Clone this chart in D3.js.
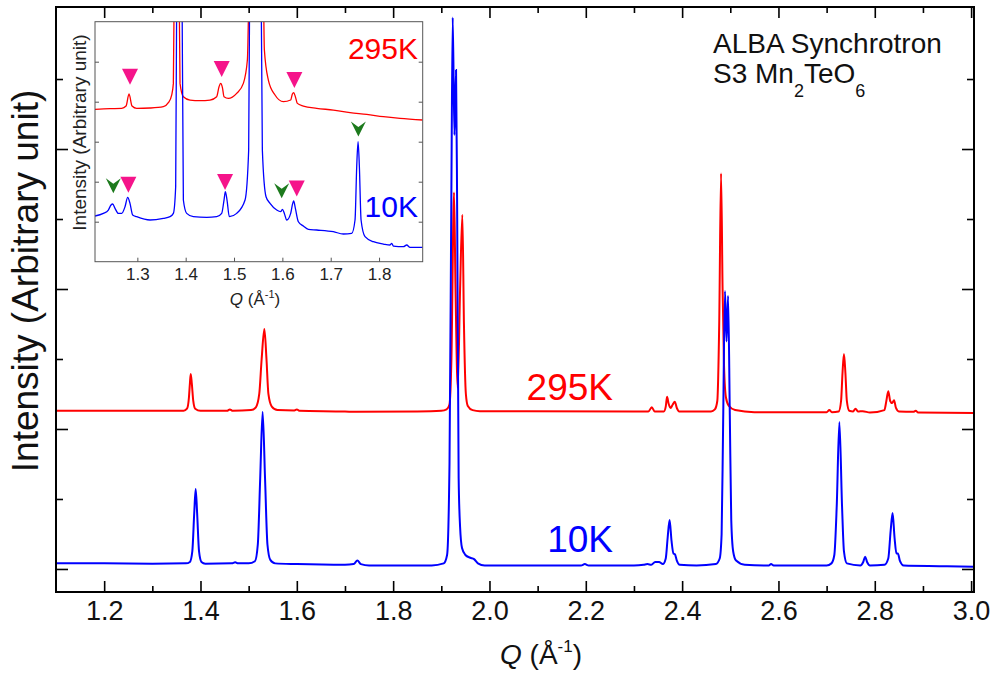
<!DOCTYPE html>
<html><head><meta charset="utf-8">
<script src="https://cdn.jsdelivr.net/npm/d3@7"></script>
<style>
body{margin:0;background:#fff;}
svg{display:block;font-family:"Liberation Sans",Arial,sans-serif;}
</style></head><body>
<svg id="c" width="994" height="674"></svg>
<script>
// ---------- data (Q in 1/Å, intensity in arbitrary units) ----------
const blue10K = [
[1.10,0.08],[1.20,0.08],[1.30,0.075],[1.37,0.08],[1.378,0.10],[1.383,0.25],[1.387,0.8],[1.390,1.143],[1.393,0.8],[1.397,0.25],[1.402,0.10],[1.41,0.075],
[1.465,0.08],[1.472,0.095],[1.478,0.08],[1.50,0.08],[1.513,0.11],[1.519,0.35],[1.524,1.3],[1.529,2.247],[1.534,1.3],[1.539,0.35],[1.545,0.13],[1.555,0.08],
[1.60,0.07],[1.70,0.06],[1.718,0.07],[1.7257,0.12],[1.733,0.07],[1.75,0.05],[1.80,0.05],[1.88,0.05],[1.905,0.08],[1.912,0.2],[1.917,1.5],[1.921,5.5],
[1.9237,7.88],[1.9272,6.2],[1.9306,7.13],[1.933,5.0],[1.936,1.3],[1.939,0.6],[1.943,0.3],[1.950,0.2],[1.960,0.16],[1.968,0.14],[1.976,0.08],[1.99,0.05],
[2.10,0.05],[2.19,0.05],[2.198,0.07],[2.206,0.05],[2.30,0.05],[2.32,0.06],[2.328,0.07],[2.336,0.06],[2.344,0.10],[2.352,0.10],[2.360,0.07],[2.366,0.15],
[2.370,0.45],[2.374,0.70],[2.378,0.40],[2.382,0.22],[2.385,0.21],[2.389,0.12],[2.395,0.06],[2.43,0.05],[2.47,0.07],[2.478,0.15],[2.482,0.5],[2.485,2.0],
[2.489,3.97],[2.4922,3.25],[2.4954,3.9],[2.499,2.2],[2.502,0.7],[2.506,0.25],[2.512,0.12],[2.53,0.06],[2.58,0.05],[2.5847,0.07],[2.59,0.05],[2.70,0.05],
[2.71,0.08],[2.716,0.2],[2.721,0.9],[2.7265,2.10],[2.732,0.9],[2.736,0.25],[2.742,0.08],[2.77,0.05],[2.776,0.10],[2.780,0.176],[2.784,0.10],[2.79,0.05],
[2.82,0.06],[2.828,0.15],[2.833,0.55],[2.837,0.80],[2.841,0.45],[2.845,0.22],[2.848,0.22],[2.852,0.12],[2.86,0.05],[2.95,0.04],[3.006,0.03]
];
const red295K = [
[1.10,2.26],[1.30,2.26],[1.365,2.26],[1.372,2.29],[1.376,2.45],[1.378,2.65],[1.3797,2.786],[1.382,2.65],[1.385,2.40],[1.389,2.29],[1.40,2.26],
[1.455,2.26],[1.461,2.28],[1.467,2.26],[1.505,2.27],[1.515,2.31],[1.522,2.5],[1.527,3.0],[1.5326,3.43],[1.537,3.0],[1.541,2.5],[1.548,2.32],[1.56,2.27],
[1.595,2.265],[1.600,2.28],[1.605,2.26],[1.70,2.25],[1.724,2.245],[1.85,2.25],[1.90,2.26],[1.911,2.28],[1.917,2.35],[1.921,3.0],[1.9264,5.38],
[1.9295,4.0],[1.9341,2.59],[1.939,4.0],[1.9437,5.06],[1.947,3.5],[1.951,2.5],[1.955,2.33],[1.965,2.27],[1.98,2.255],[2.30,2.25],[2.33,2.25],
[2.337,2.31],[2.343,2.25],[2.362,2.25],[2.366,2.32],[2.3687,2.46],[2.372,2.36],[2.376,2.30],[2.3805,2.35],[2.3847,2.39],[2.389,2.30],[2.394,2.25],
[2.46,2.25],[2.468,2.28],[2.473,2.4],[2.477,3.5],[2.4808,5.65],[2.484,4.0],[2.487,2.9],[2.491,2.45],[2.497,2.33],[2.51,2.27],[2.55,2.24],[2.70,2.24],
[2.7057,2.27],[2.711,2.24],[2.725,2.25],[2.730,2.4],[2.733,2.8],[2.736,3.07],[2.739,2.8],[2.742,2.4],[2.747,2.26],[2.755,2.25],[2.760,2.29],[2.765,2.25],
[2.775,2.255],[2.79,2.235],[2.820,2.27],[2.824,2.4],[2.828,2.54],[2.832,2.40],[2.836,2.37],[2.840,2.41],[2.844,2.30],[2.85,2.25],[2.88,2.245],[2.885,2.26],
[2.89,2.235],[3.006,2.23]
];
const insetRed = [
[1.2124,3.808],[1.2434,3.825],[1.2676,3.833],[1.2766,3.892],[1.2828,4.192],[1.289,3.892],[1.2986,3.833],[1.3262,3.842],[1.3538,3.875],[1.3641,3.975],
[1.371,4.167],[1.3745,4.458],[1.3772,8.2],[1.3814,9.9],[1.3855,8.2],[1.3883,4.458],[1.3952,4.125],[1.409,4.042],[1.4297,4.025],[1.4503,4.042],
[1.4641,4.125],[1.469,4.375],[1.4724,4.458],[1.4759,4.358],[1.4793,4.125],[1.4883,4.083],[1.5055,4.208],[1.5193,4.458],[1.5276,5.042],[1.5331,8.2],
[1.5469,9.9],[1.5593,8.2],[1.5628,5.292],[1.571,4.542],[1.5848,4.167],[1.6021,4.0],[1.6172,4.042],[1.6207,4.192],[1.6234,4.225],[1.6269,4.125],
[1.631,3.958],[1.6434,3.892],[1.671,3.833],[1.7055,3.792],[1.74,3.725],[1.7745,3.683],[1.809,3.625],[1.8434,3.583],[1.8903,3.542]
];
const insetBlue = [
[1.2124,1.142],[1.2297,1.208],[1.24,1.292],[1.2455,1.417],[1.249,1.442],[1.2538,1.333],[1.2607,1.208],[1.2676,1.208],[1.2745,1.375],[1.28,1.608],
[1.2848,1.458],[1.2903,1.167],[1.2986,1.125],[1.3262,1.042],[1.3538,1.083],[1.3676,1.125],[1.3745,1.208],[1.3793,1.875],[1.3821,8.2],[1.3869,9.9],
[1.3917,8.2],[1.3952,1.542],[1.4021,1.208],[1.4159,1.125],[1.4434,1.108],[1.4641,1.125],[1.4745,1.208],[1.4793,1.542],[1.4821,1.75],[1.4855,1.542],
[1.4903,1.125],[1.5055,1.208],[1.5228,1.542],[1.5303,2.792],[1.5331,8.2],[1.5441,9.9],[1.5552,8.2],[1.5586,2.792],[1.5662,1.625],[1.5745,1.458],
[1.5883,1.292],[1.5966,1.25],[1.6,1.308],[1.6041,1.208],[1.609,1.042],[1.6172,1.208],[1.6214,1.458],[1.6234,1.517],[1.6269,1.333],[1.6331,1.0],
[1.6434,0.892],[1.6538,0.808],[1.671,0.792],[1.7055,0.75],[1.7262,0.692],[1.7434,0.708],[1.7503,1.042],[1.7538,2.375],[1.7566,3.0],[1.7593,2.375],
[1.7628,1.042],[1.771,0.625],[1.7883,0.5],[1.809,0.442],[1.8228,0.417],[1.8262,0.458],[1.8297,0.392],[1.8503,0.375],[1.8572,0.417],[1.8641,0.358],[1.8903,0.358]
];
const pinkMarks = [[1.2848,4.625],[1.4745,4.817],[1.6248,4.542],[1.2814,1.925],[1.4814,1.99],[1.6297,1.833]];
const greenMarks = [[1.2503,1.90],[1.7572,3.317],[1.5986,1.775]];
const xMajor = [1.2,1.4,1.6,1.8,2.0,2.2,2.4,2.6,2.8,3.0];
const xMinor = [1.3,1.5,1.7,1.9,2.1,2.3,2.5,2.7,2.9];
const yMajor = [0,2,4,6];
const yMinor = [1,3,5,7];
const insetXTicks = [1.3,1.4,1.5,1.6,1.7,1.8];
const insetYTicks = [1,2,3,4,5];

// ---------- layout ----------
const svg = d3.select("#c");
const M = {l:56, r:974, t:7, b:592};
const x = d3.scaleLinear().domain([1.1,3.006]).range([M.l,M.r]);
const y = d3.scaleLinear().domain([-0.329,8.029]).range([M.b,M.t]);
const fmt = d3.format(".1f");

svg.append("clipPath").attr("id","mainclip").append("rect")
  .attr("x",M.l).attr("y",M.t).attr("width",M.r-M.l).attr("height",M.b-M.t);

const line = d3.line().x(d=>x(d[0])).y(d=>y(d[1])).curve(d3.curveMonotoneX);
const gLines = svg.append("g").attr("clip-path","url(#mainclip)");
gLines.append("path").datum(red295K).attr("d",line).attr("fill","none").attr("stroke","#ff0000").attr("stroke-width",2);
gLines.append("path").datum(blue10K).attr("d",line).attr("fill","none").attr("stroke","#0000ff").attr("stroke-width",2);

function styleAxis(g){ g.select(".domain").remove(); g.selectAll("line").attr("stroke","#000").attr("stroke-width",1.6); }
// bottom
svg.append("g").attr("transform",`translate(0,${M.b})`)
  .call(d3.axisBottom(x).tickValues(xMajor).tickSize(-11).tickPadding(9).tickFormat(fmt))
  .call(styleAxis).call(g=>g.selectAll("text").attr("font-size",27).attr("fill","#111").attr("font-family","Liberation Sans, Arial, sans-serif"));
svg.append("g").attr("transform",`translate(0,${M.b})`)
  .call(d3.axisBottom(x).tickValues(xMinor).tickSize(-6).tickFormat("")).call(styleAxis);
// top
svg.append("g").attr("transform",`translate(0,${M.t})`)
  .call(d3.axisTop(x).tickValues(xMajor).tickSize(-11).tickFormat("")).call(styleAxis);
svg.append("g").attr("transform",`translate(0,${M.t})`)
  .call(d3.axisTop(x).tickValues(xMinor).tickSize(-6).tickFormat("")).call(styleAxis);
// left/right
svg.append("g").attr("transform",`translate(${M.l},0)`)
  .call(d3.axisLeft(y).tickValues(yMajor).tickSize(-12).tickFormat("")).call(styleAxis);
svg.append("g").attr("transform",`translate(${M.l},0)`)
  .call(d3.axisLeft(y).tickValues(yMinor).tickSize(-7).tickFormat("")).call(styleAxis);
svg.append("g").attr("transform",`translate(${M.r},0)`)
  .call(d3.axisRight(y).tickValues(yMajor).tickSize(-12).tickFormat("")).call(styleAxis);
svg.append("g").attr("transform",`translate(${M.r},0)`)
  .call(d3.axisRight(y).tickValues(yMinor).tickSize(-7).tickFormat("")).call(styleAxis);

svg.append("rect").attr("x",M.l).attr("y",M.t).attr("width",M.r-M.l).attr("height",M.b-M.t)
  .attr("fill","none").attr("stroke","#000").attr("stroke-width",2);

// axis titles
const xl = svg.append("text").attr("x",500).attr("y",664).attr("font-size",28).attr("fill","#111");
xl.append("tspan").attr("font-style","italic").text("Q");
xl.append("tspan").text(" (Å");
xl.append("tspan").attr("font-size",17).attr("dy",-12).text("-1");
xl.append("tspan").attr("dy",12).text(")");
svg.append("text").attr("transform","translate(38,281) rotate(-90)").attr("text-anchor","middle")
  .attr("font-size",37).attr("fill","#111").text("Intensity (Arbitrary unit)");

// series labels
svg.append("text").attr("x",613).attr("y",400).attr("text-anchor","end").attr("font-size",37).attr("fill","#ff0000").text("295K");
svg.append("text").attr("x",613).attr("y",552).attr("text-anchor","end").attr("font-size",37).attr("fill","#0000ff").text("10K");

// annotation
svg.append("text").attr("x",713).attr("y",53).attr("font-size",28).attr("fill","#111").text("ALBA Synchrotron");
const t2 = svg.append("text").attr("x",713).attr("y",83).attr("font-size",28).attr("fill","#111");
t2.append("tspan").text("S3 Mn");
t2.append("tspan").attr("font-size",18).attr("dy",14).text("2");
t2.append("tspan").attr("dy",-14).text("TeO");
t2.append("tspan").attr("font-size",18).attr("dy",14).text("6");

// ---------- inset ----------
const I = {l:95, r:422.7, t:21.7, b:261.7};
const xi = d3.scaleLinear().domain([1.2124,1.8903]).range([I.l,I.r]);
const yi = d3.scaleLinear().domain([0,6]).range([I.b,I.t]);
svg.append("rect").attr("x",I.l).attr("y",I.t).attr("width",I.r-I.l).attr("height",I.b-I.t).attr("fill","#fff");
svg.append("clipPath").attr("id","insetclip").append("rect")
  .attr("x",I.l).attr("y",I.t).attr("width",I.r-I.l).attr("height",I.b-I.t);
const linei = d3.line().x(d=>xi(d[0])).y(d=>yi(d[1])).curve(d3.curveMonotoneX);
const gi = svg.append("g").attr("clip-path","url(#insetclip)");
gi.append("path").datum(insetRed).attr("d",linei).attr("fill","none").attr("stroke","#ff0000").attr("stroke-width",1.3);
gi.append("path").datum(insetBlue).attr("d",linei).attr("fill","none").attr("stroke","#0000ff").attr("stroke-width",1.3);

function styleInset(g){ g.select(".domain").remove(); g.selectAll("line").attr("stroke","#555").attr("stroke-width",1); }
svg.append("g").attr("transform",`translate(0,${I.b})`)
  .call(d3.axisBottom(xi).tickValues(insetXTicks).tickSize(-4).tickPadding(6).tickFormat(fmt))
  .call(styleInset).call(g=>g.selectAll("text").attr("font-size",17).attr("fill","#222").attr("font-family","Liberation Sans, Arial, sans-serif"));
svg.append("g").attr("transform",`translate(${I.l},0)`)
  .call(d3.axisLeft(yi).tickValues(insetYTicks).tickSize(-4).tickFormat("")).call(styleInset);
svg.append("g").attr("transform",`translate(${I.r},0)`)
  .call(d3.axisRight(yi).tickValues(insetYTicks).tickSize(-4).tickFormat("")).call(styleInset);
svg.append("rect").attr("x",I.l).attr("y",I.t).attr("width",I.r-I.l).attr("height",I.b-I.t)
  .attr("fill","none").attr("stroke","#555").attr("stroke-width",1);

const xli = svg.append("text").attr("x",255).attr("y",305).attr("text-anchor","middle").attr("font-size",17).attr("fill","#222");
xli.append("tspan").attr("font-style","italic").text("Q");
xli.append("tspan").text(" (Å");
xli.append("tspan").attr("font-size",11).attr("dy",-7).text("-1");
xli.append("tspan").attr("dy",7).text(")");
svg.append("text").attr("transform","translate(86,132.5) rotate(-90)").attr("text-anchor","middle")
  .attr("font-size",19).attr("fill","#222").text("Intensity (Arbitrary unit)");
svg.append("text").attr("x",418).attr("y",59.3).attr("text-anchor","end").attr("font-size",30).attr("fill","#ff0000").text("295K");
svg.append("text").attr("x",418).attr("y",217.3).attr("text-anchor","end").attr("font-size",30).attr("fill","#0000ff").text("10K");

svg.append("g").selectAll("path").data(pinkMarks).join("path")
  .attr("transform",d=>`translate(${xi(d[0])},${yi(d[1])})`)
  .attr("d","M-8,-8L8,-8L0,8Z").attr("fill","#f5148a");
svg.append("g").selectAll("path").data(greenMarks).join("path")
  .attr("transform",d=>`translate(${xi(d[0])},${yi(d[1])})`)
  .attr("d","M-7.5,-7.5L0,-2L7.5,-7.5L0,7.5Z").attr("fill","#1d7a1d");
</script></body></html>
